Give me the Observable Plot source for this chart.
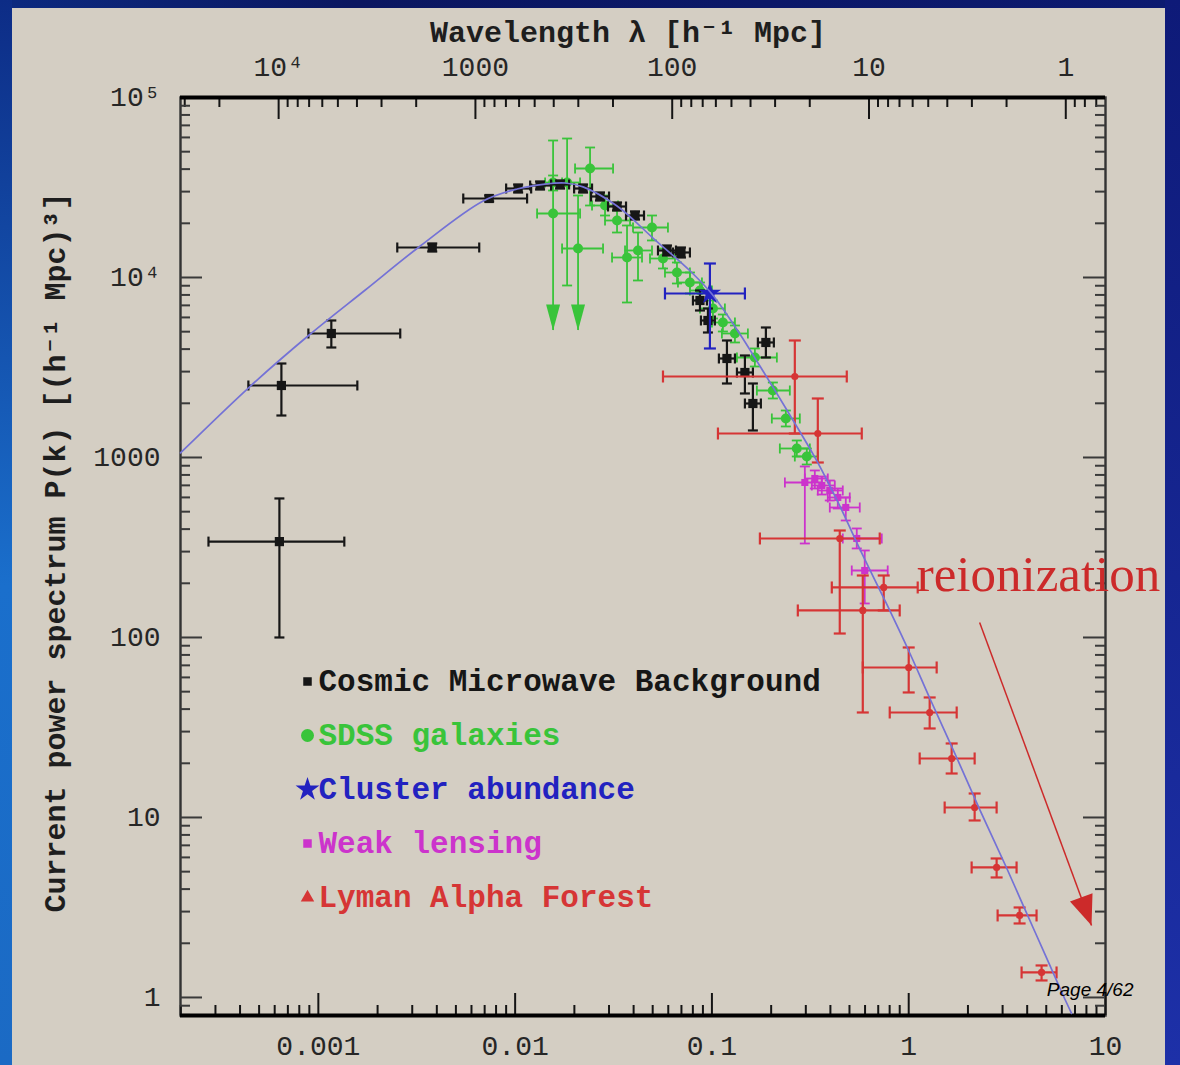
<!DOCTYPE html>
<html>
<head>
<meta charset="utf-8">
<script src="https://cdn.jsdelivr.net/npm/d3@7"></script>
<script src="https://cdn.jsdelivr.net/npm/@observablehq/plot@0.6"></script>
<style>
html, body { margin: 0; padding: 0; width: 1180px; height: 1065px; overflow: hidden; }
body { background: #15269a; position: relative; }
#topband { position: absolute; left: 0; top: 0; width: 1180px; height: 8px; background: linear-gradient(to right, #0c2a80, #0a1660 30%, #0c1a70 100%); }
#leftband { position: absolute; left: 0; top: 0; width: 12px; height: 1065px; background: linear-gradient(to bottom, #0d2c86, #1a6fcc 55%, #1b6ac4 100%); }
#rightband { position: absolute; left: 1165px; top: 0; width: 15px; height: 1065px; background: linear-gradient(to bottom, #0e1a78, #1d30a8 100%); }
#panel { position: absolute; left: 12px; top: 8px; width: 1153px; height: 1057px; background: #d4cec3; }
#chart { position: absolute; left: 0; top: 0; }
</style>
</head>
<body>
<div id="topband"></div><div id="leftband"></div><div id="rightband"></div>
<div id="panel"></div>
<div id="chart"></div>
<script>
// ---------------- DATA ----------------
// Theory curve P(k)
const modelK = [1.993e-4, 4.52e-4, 9.11e-4, 1.732e-3, 3.295e-3, 6.88e-3, 0.01024, 0.0142, 0.01794, 0.02214, 0.03295, 0.05017, 0.07729, 0.1, 0.1387, 0.1753, 0.2488, 0.3412, 0.4463, 0.5774, 0.7733, 1.012, 1.278, 1.712, 2.293, 3.145, 3.791, 5.017, 6.049, 6.72];
const modelP = [1060, 2495, 4853, 8524, 14962, 26607, 31030, 33040, 33500, 31860, 24950, 16570, 10900, 8097, 4853, 3221, 1722, 957, 538, 294, 153, 82.0, 46.1, 22.8, 11.1, 5.24, 3.30, 1.66, 1.045, 0.815];

// rows: [k, P, kLo, kHi, PLo, PHi]
const cmbData = [
  [6.34e-4, 341, 2.765e-4, 1.355e-3, 100, 592],
  [6.49e-4, 2512, 4.41e-4, 1.578e-3, 1711, 3328],
  [1.164e-3, 4885, 8.90e-4, 2.607e-3, 4084, 5769],
  [3.792e-3, 14678, 2.518e-3, 6.57e-3, 13946, 15448],
  [7.38e-3, 27474, 5.45e-3, 0.0115, 26437, 28550],
  [0.01036, 31220, 0.0090, 0.01206, 29665, 32860],
  [0.01339, 32440, 0.01192, 0.01523, 30830, 34150],
  [0.01692, 32860, 0.01523, 0.0188, 31220, 34590],
  [0.02214, 31220, 0.01994, 0.02459, 29665, 32860],
  [0.027, 28184, 0.02431, 0.03, 26780, 29665],
  [0.03295, 24800, 0.02965, 0.0366, 23570, 26100],
  [0.04066, 22100, 0.0366, 0.04517, 21000, 23280],
  [0.05909, 14125, 0.0532, 0.06567, 13250, 15060],
  [0.06961, 13770, 0.06339, 0.07731, 12915, 14678],
  [0.08693, 7451, 0.08009, 0.09432, 6557, 8468],
  [0.09543, 5769, 0.08794, 0.1035, 4948, 6726],
  [0.1192, 3548, 0.1085, 0.1309, 2577, 4467],
  [0.1471, 2966, 0.134, 0.1615, 2268, 3687],
  [0.1615, 1995, 0.1471, 0.1773, 1413, 2577],
  [0.188, 4355, 0.1712, 0.2064, 3594, 5275]
];
// rows: [k, P, kLo, kHi, PLo, PHi, upperLimit]
const sdssData = [
  [0.01559, 22680, 0.01293, 0.02138, 5077, 57690, 1],
  [0.01837, 33710, 0.01559, 0.02138, 9027, 59180, 0],
  [0.02088, 14490, 0.01732, 0.02797, 5077, 28550, 1],
  [0.02403, 40330, 0.02016, 0.03145, 25120, 52750, 0],
  [0.01559, 33710, 0.0142, 0.01732, 30430, 36870, 0],
  [0.02863, 25120, 0.02459, 0.03333, 22100, 28550, 0],
  [0.03295, 20730, 0.02863, 0.03836, 17780, 23570, 0],
  [0.03703, 12915, 0.03108, 0.04413, 7263, 19450, 0],
  [0.04211, 14125, 0.03618, 0.0496, 9624, 17780, 0],
  [0.0496, 18960, 0.03972, 0.05977, 16060, 22100, 0],
  [0.0564, 12750, 0.04845, 0.0649, 11220, 14490, 0],
  [0.06643, 10660, 0.05773, 0.07731, 9261, 12115, 0],
  [0.07731, 9380, 0.06721, 0.08897, 8150, 10660, 0],
  [0.08693, 8468, 0.07731, 0.1, 7451, 9380, 0],
  [0.1012, 6726, 0.08693, 0.1164, 5918, 7451, 0],
  [0.1137, 5623, 0.1, 0.1309, 5012, 6228, 0],
  [0.1309, 4885, 0.1124, 0.1523, 4355, 5412, 0],
  [0.1653, 3594, 0.134, 0.2138, 3203, 4033, 0],
  [0.204, 2356, 0.1692, 0.2488, 2127, 2610, 0],
  [0.2375, 1647, 0.2016, 0.2797, 1487, 1824, 0],
  [0.27, 1122, 0.2214, 0.3145, 1013, 1243, 0],
  [0.3035, 1013, 0.2638, 0.3452, 914, 1122, 0]
];
const clusterData = [
  [0.09768, 8150, 0.05773, 0.1471, 4033, 11960]
];
const lensingData = [
  [0.2966, 726.3, 0.2348, 0.3617, 332.8, 891.3],
  [0.3333, 764.3, 0.2966, 0.388, 672.6, 847],
  [0.3617, 699, 0.3218, 0.4211, 622.8, 784],
  [0.3972, 655.6, 0.3452, 0.4624, 576.9, 745],
  [0.4362, 599.5, 0.388, 0.5017, 520.8, 672.6],
  [0.4789, 527.5, 0.3972, 0.564, 446.7, 599.5],
  [0.5445, 354.8, 0.4624, 0.7295, 312.3, 403.3],
  [0.5977, 235.6, 0.5136, 0.7821, 154.5, 304.3]
];
const lymanData = [
  [0.2638, 2818, 0.0564, 0.4845, 1359, 4467],
  [0.3452, 1359, 0.1073, 0.5774, 937.9, 2127],
  [0.4463, 354.8, 0.1753, 0.7124, 105.2, 393],
  [0.7465, 189.6, 0.4066, 1.111, 141.3, 221],
  [0.5843, 141.3, 0.2732, 0.9, 38.31, 221],
  [1.0, 68.13, 0.5843, 1.387, 49.49, 87.99],
  [1.278, 38.31, 0.8009, 1.753, 31.22, 46.42],
  [1.653, 21.27, 1.137, 2.163, 17.55, 25.77],
  [2.163, 11.36, 1.523, 2.797, 9.624, 13.59],
  [2.797, 5.275, 2.088, 3.533, 4.642, 5.918],
  [3.66, 2.855, 2.83, 4.463, 2.577, 3.162],
  [4.733, 1.377, 3.746, 5.64, 1.243, 1.506]
];

// Axis ticks / labels
const kTickValues = [0.001, 0.01, 0.1, 1, 10];
const kTickLabels = ["0.001", "0.01", "0.1", "1", "10"];
const pTickValues = [1, 10, 100, 1000, 1e4, 1e5];
const pTickLabels = ["1", "10", "100", "1000", "10⁴", "10⁵"];
const lambdaTickValues = [1e4, 1000, 100, 10, 1];
const lambdaTickLabels = ["10⁴", "1000", "100", "10", "1"];
const topTitle = "Wavelength λ [h⁻¹ Mpc]";
const yTitle = "Current power spectrum P(k) [(h⁻¹ Mpc)³]";

const legendLabels = ["Cosmic Microwave Background", "SDSS galaxies", "Cluster abundance", "Weak lensing", "Lyman Alpha Forest"];

// Annotation
const reionLabel = [{k: 1.098, P: 224, text: "reionization"}];
const reionArrow = [{k1: 2.293, P1: 121.2, k2: 8.49, P2: 2.512}];
const pageLabel = "Page 4/62";

// ---------------- LAYOUT ----------------
const W = 1180, H = 1065;
const M = {left: 180, right: 75, top: 97, bottom: 50};
const plotW = W - M.left - M.right;
const plotH = H - M.top - M.bottom;
const xDomain = [1.993e-4, 10];
const yDomain = [0.794, 1e5];
const TWO_PI = 2 * Math.PI;

const COL = {cmb: "#161616", sdss: "#39c43a", cluster: "#2222c0", lensing: "#cc33cc", lyman: "#d63535", curve: "#7472d6", reion: "#cc2a2a"};
const monoFont = "'Liberation Mono', 'DejaVu Sans Mono', monospace";

function decadeTicks(lo, hi, mults) {
  const out = [];
  for (let e = Math.floor(Math.log10(lo)) - 1; e <= Math.ceil(Math.log10(hi)) + 1; e++)
    for (const m of mults) {
      const v = m * Math.pow(10, e);
      if (v >= lo * 0.9999 && v <= hi * 1.0001) out.push(v);
    }
  return out;
}
const minors = [2, 3, 4, 5, 6, 7, 8, 9];
const kMajor = decadeTicks(xDomain[0], xDomain[1], [1]);
const kMinor = decadeTicks(xDomain[0], xDomain[1], minors);
const pMajor = decadeTicks(yDomain[0], yDomain[1], [1]);
const pMinor = decadeTicks(yDomain[0], yDomain[1], minors);
const lamLo = TWO_PI / xDomain[1], lamHi = TWO_PI / xDomain[0];
const lamMajor = decadeTicks(lamLo, lamHi, [1]);
const lamMinor = decadeTicks(lamLo, lamHi, minors);

// custom symbols
const hLine = {draw(c, s) { const r = Math.sqrt(s / Math.PI); c.moveTo(-r, 0); c.lineTo(r, 0); }};
const vLine = {draw(c, s) { const r = Math.sqrt(s / Math.PI); c.moveTo(0, -r); c.lineTo(0, r); }};
function arrowHead(len, halfW) {
  return {draw(c, s) { const r = Math.sqrt(s / Math.PI); c.moveTo(0, 0); c.lineTo(-halfW * r, -len * r); c.lineTo(halfW * r, -len * r); c.closePath(); }};
}

function toRows(arr) {
  return arr.map(([k, P, kLo, kHi, PLo, PHi, up]) => ({k, P, kLo, kHi, PLo, PHi, up: !!up}));
}

function seriesMarks(arr, color, symbol, r, sw, cap) {
  const d = toRows(arr);
  const normal = d.filter(e => !e.up);
  const limits = d.filter(e => e.up);
  return [
    Plot.ruleY(d, {y: "P", x1: "kLo", x2: "kHi", stroke: color, strokeWidth: sw}),
    Plot.ruleX(d, {x: "k", y1: "PLo", y2: "PHi", stroke: color, strokeWidth: sw}),
    Plot.dot(d, {x: "kLo", y: "P", symbol: vLine, r: cap, stroke: color, strokeWidth: sw, fill: "none"}),
    Plot.dot(d, {x: "kHi", y: "P", symbol: vLine, r: cap, stroke: color, strokeWidth: sw, fill: "none"}),
    Plot.dot(d, {x: "k", y: "PHi", symbol: hLine, r: cap, stroke: color, strokeWidth: sw, fill: "none"}),
    Plot.dot(normal, {x: "k", y: "PLo", symbol: hLine, r: cap, stroke: color, strokeWidth: sw, fill: "none"}),
    Plot.dot(limits, {x: "k", y: "PLo", symbol: arrowHead(2.6, 0.7), r: 10, fill: color, stroke: "none"}),
    Plot.dot(d, {x: "k", y: "P", symbol, r, fill: color, stroke: "none"})
  ];
}

const legendSymbols = ["square", "circle", "star", "square", "triangle"];
const legendColors = [COL.cmb, COL.sdss, COL.cluster, COL.lensing, COL.lyman];
const legendR = [4.8, 6.5, 7.5, 4.8, 5];

const legendMarks = [];
legendLabels.forEach((label, i) => {
  const dy = 584 + 54 * i;
  legendMarks.push(Plot.dot([label], {frameAnchor: "top-left", dx: 127, dy, symbol: legendSymbols[i], r: legendR[i], fill: legendColors[i], stroke: "none"}));
  legendMarks.push(Plot.text([label], {frameAnchor: "top-left", dx: 138, dy, text: d => d, textAnchor: "start", lineAnchor: "middle", fill: legendColors[i], fontFamily: monoFont, fontWeight: "bold", fontSize: 31}));
});

const tickStyle = {stroke: "#151515", strokeWidth: 2};
const sideTickStyle = {stroke: "#3a3a3a", strokeWidth: 2};
const labelStyle = {fontFamily: monoFont, fontSize: 28, fill: "#262626", lineAnchor: "middle"};

const chart = Plot.plot({
  width: W, height: H,
  marginLeft: M.left, marginRight: M.right, marginTop: M.top, marginBottom: M.bottom,
  x: {type: "log", domain: xDomain, axis: null},
  y: {type: "log", domain: yDomain, axis: null},
  style: {background: "transparent", overflow: "visible"},
  marks: [
    // frame & ticks
    Plot.frame({stroke: "#333", strokeWidth: 2.4}),
    Plot.ruleX(kMajor, {...tickStyle, insetTop: plotH - 22}),
    Plot.ruleX(kMinor, {...tickStyle, insetTop: plotH - 10}),
    Plot.ruleX(lamMajor, {x: d => TWO_PI / d, ...tickStyle, insetBottom: plotH - 22}),
    Plot.ruleX(lamMinor, {x: d => TWO_PI / d, ...tickStyle, insetBottom: plotH - 10}),
    Plot.ruleY(pMajor, {...sideTickStyle, insetRight: plotW - 22}),
    Plot.ruleY(pMinor, {...sideTickStyle, insetRight: plotW - 10}),
    Plot.ruleY(pMajor, {...sideTickStyle, insetLeft: plotW - 22}),
    Plot.ruleY(pMinor, {...sideTickStyle, insetLeft: plotW - 10}),
    Plot.ruleY([yDomain[1]], {stroke: "#000", strokeWidth: 4}),
    Plot.ruleY([yDomain[0]], {stroke: "#000", strokeWidth: 4}),

    // tick labels
    Plot.text(kTickValues, {x: d => d, text: (d, i) => kTickLabels[i], frameAnchor: "bottom", dy: 31, textAnchor: "middle", ...labelStyle}),
    Plot.text(lambdaTickValues, {x: d => TWO_PI / d, text: (d, i) => lambdaTickLabels[i], frameAnchor: "top", dy: -30, textAnchor: "middle", ...labelStyle}),
    Plot.text(pTickValues, {y: d => d, text: (d, i) => pTickLabels[i], frameAnchor: "left", dx: -20, textAnchor: "end", ...labelStyle}),

    // titles
    Plot.text([topTitle], {frameAnchor: "top", dx: -15, dy: -65, text: d => d, textAnchor: "middle", lineAnchor: "middle", fontFamily: monoFont, fontWeight: "bold", fontSize: 30, fill: "#1e1e1e"}),
    Plot.text([yTitle], {frameAnchor: "left", dx: -125, dy: -4, rotate: -90, text: d => d, textAnchor: "middle", lineAnchor: "middle", fontFamily: monoFont, fontWeight: "bold", fontSize: 30, fill: "#1e1e1e"}),

    // data series
    ...seriesMarks(sdssData, COL.sdss, "circle", 5, 1.8, 5),
    ...seriesMarks(cmbData, COL.cmb, "square", 5.2, 2.2, 5),
    ...seriesMarks(clusterData, COL.cluster, "star", 7, 2.2, 6),
    ...seriesMarks(lensingData, COL.lensing, "square", 4, 1.8, 5),
    ...seriesMarks(lymanData, COL.lyman, "circle", 3.6, 2.2, 6),

    // theory curve
    Plot.line(modelK.map((k, i) => ({k, P: modelP[i]})), {x: "k", y: "P", stroke: COL.curve, strokeWidth: 1.7, curve: "catmull-rom"}),

    // legend
    ...legendMarks,

    // reionization annotation
    Plot.text(reionLabel, {x: "k", y: "P", text: "text", textAnchor: "start", lineAnchor: "middle", fontFamily: "'Liberation Serif', 'DejaVu Serif', serif", fontSize: 51, fill: COL.reion}),
    Plot.link(reionArrow, {x1: "k1", y1: "P1", x2: "k2", y2: "P2", stroke: COL.reion, strokeWidth: 1.5}),
    Plot.dot(reionArrow, {x: "k2", y: "P2", symbol: arrowHead(3, 1.2), r: 10, rotate: -20, fill: COL.reion, stroke: "none"}),

    // page number
    Plot.text([pageLabel], {frameAnchor: "bottom-right", dx: 28, dy: -26, text: d => d, textAnchor: "end", lineAnchor: "middle", fontFamily: "'Liberation Sans', Arial, sans-serif", fontStyle: "italic", fontSize: 19, fill: "#000"})
  ]
});
document.getElementById("chart").appendChild(chart);
</script>
</body>
</html>
